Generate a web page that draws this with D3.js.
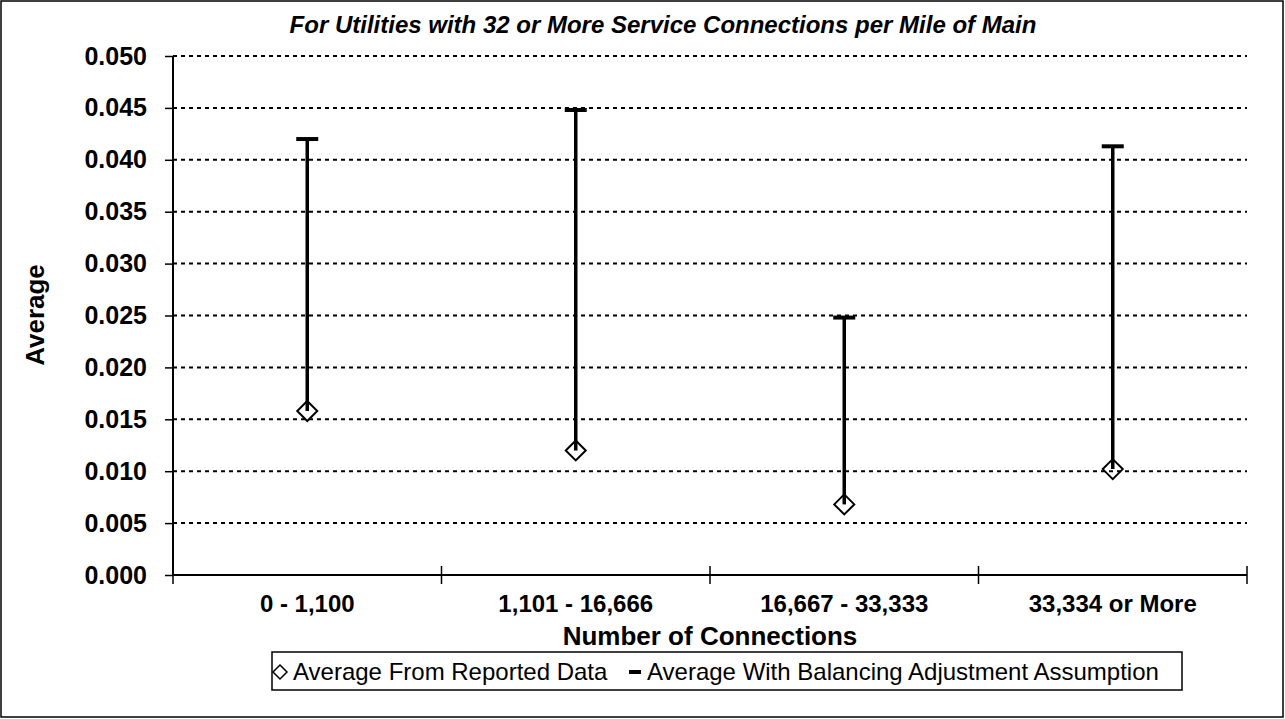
<!DOCTYPE html>
<html><head><meta charset="utf-8">
<script src="https://cdn.jsdelivr.net/npm/d3@7/dist/d3.min.js"></script>
<style>body{margin:0;background:#fff}svg{display:block;font-family:Arial,"Liberation Sans",sans-serif}</style>
</head><body><svg id="c" width="1285" height="719"></svg>
<script>
const categories = ["0 - 1,100", "1,101 - 16,666", "16,667 - 33,333", "33,334 or More"];
const reported = [0.0158, 0.0120, 0.0068, 0.0102];
const balanced = [0.0420, 0.0448, 0.0248, 0.0413];
const yTicks = [0, 0.005, 0.01, 0.015, 0.02, 0.025, 0.03, 0.035, 0.04, 0.045, 0.05];
const title = "For Utilities with 32 or More Service Connections per Mile of Main";
const xTitle = "Number of Connections";
const yTitle = "Average";
const legendLabels = ["Average From Reported Data", "Average With Balancing Adjustment Assumption"];

const svg = d3.select("#c");
svg.append("rect").attr("x",1).attr("y",1).attr("width",1282).attr("height",716).attr("fill","#fff").attr("stroke","#000").attr("stroke-width",1.5);

const L=173, R=1247, T=56, B=575;
const x = d3.scaleBand().domain(categories).range([L,R]).padding(0);
const y = d3.scaleLinear().domain([0,0.05]).range([B,T]);

// grid
svg.append("g").selectAll("line").data(yTicks.filter(d=>d>0)).join("line")
 .attr("x1",L).attr("x2",R).attr("y1",d=>y(d)).attr("y2",d=>y(d))
 .attr("stroke","#000").attr("stroke-width",2).attr("stroke-dasharray","4,4");

// y axis
const ya = svg.append("g").attr("transform",`translate(${L},0)`)
 .call(d3.axisLeft(y).tickValues(yTicks).tickFormat(d3.format(".3f")).tickSize(8).tickPadding(18));
ya.attr("font-family",null).attr("font-size",null);
ya.select(".domain").attr("stroke-width",2).attr("d",`M0,${B}V${T}`);
ya.selectAll(".tick line").attr("stroke-width",1.5);
ya.selectAll("text").attr("font-size",25).attr("font-weight","bold").attr("fill","#000");

// x axis
const xa = svg.append("g").attr("transform",`translate(0,${B})`)
 .call(d3.axisBottom(x).tickSize(0).tickPadding(0));
xa.attr("font-family",null).attr("font-size",null);
xa.select(".domain").attr("stroke-width",2).attr("d",`M${L},0H${R}`);
xa.selectAll("text").attr("font-size",24).attr("font-weight","bold").attr("fill","#000").attr("y",37).attr("dy",0);
svg.append("g").selectAll("line").data(d3.range(categories.length+1)).join("line")
 .attr("x1",i=>L+i*x.bandwidth()).attr("x2",i=>L+i*x.bandwidth())
 .attr("y1",B-9).attr("y2",B+9).attr("stroke","#000").attr("stroke-width",1.5);

const cx = d => x(d)+x.bandwidth()/2;
// bars
svg.append("g").selectAll("line").data(categories).join("line")
 .attr("x1",cx).attr("x2",cx).attr("y1",(d,i)=>y(reported[i])).attr("y2",(d,i)=>y(balanced[i]))
 .attr("stroke","#000").attr("stroke-width",3.5);
svg.append("g").selectAll("line").data(categories).join("line")
 .attr("x1",d=>cx(d)-11).attr("x2",d=>cx(d)+11).attr("y1",(d,i)=>y(balanced[i])).attr("y2",(d,i)=>y(balanced[i]))
 .attr("stroke","#000").attr("stroke-width",4);
const dia = (px,py,r)=>`M${px},${py-r}L${px+r},${py}L${px},${py+r}L${px-r},${py}Z`;
svg.append("g").selectAll("path").data(categories).join("path")
 .attr("d",(d,i)=>dia(cx(d),y(reported[i]),10)).attr("fill","none").attr("stroke","#000").attr("stroke-width",2);

// titles
svg.append("text").attr("x",663).attr("y",33).attr("text-anchor","middle").attr("font-size",24)
 .attr("font-weight","bold").attr("font-style","italic").text(title);
svg.append("text").attr("x",710).attr("y",645).attr("text-anchor","middle").attr("font-size",26)
 .attr("font-weight","bold").text(xTitle);
svg.append("text").attr("transform","translate(44,315) rotate(-90)").attr("text-anchor","middle").attr("font-size",26)
 .attr("font-weight","bold").text(yTitle);

// legend
const lg = svg.append("g");
lg.append("rect").attr("x",272).attr("y",652).attr("width",910).attr("height",38).attr("fill","#fff").attr("stroke","#000").attr("stroke-width",1.5);
lg.append("path").attr("d",dia(280,672,7)).attr("fill","none").attr("stroke","#000").attr("stroke-width",1.5);
lg.append("text").attr("x",293).attr("y",680).attr("font-size",24).text(legendLabels[0]);
lg.append("line").attr("x1",629).attr("x2",641).attr("y1",672).attr("y2",672).attr("stroke","#000").attr("stroke-width",4);
lg.append("text").attr("x",647).attr("y",680).attr("font-size",24).text(legendLabels[1]);
</script></body></html>
